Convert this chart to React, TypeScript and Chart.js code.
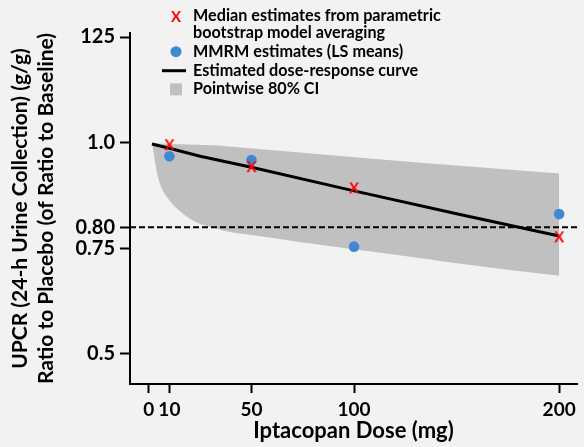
import React, { useEffect, useRef } from 'react';
import { Chart, registerables } from 'chart.js';

Chart.register(...registerables);

// ---- data ----
const xTicks = [0, 10, 50, 100, 200];
const yTicks = [0.5, 0.75, 0.8, 1.0, 1.25];
const yTickLabels = ['0.5', '0.75', '0.80', '1.0', '125'];

const doses = [10, 50, 100, 200];
const medianEstimates = [0.994, 0.942, 0.892, 0.776];
const mmrmEstimates = [0.968, 0.959, 0.754, 0.831];

const curveDoses = [1.5, 10, 25, 50, 100, 150, 200];
const curveValues = [0.997, 0.987, 0.968, 0.942, 0.886, 0.832, 0.779];

const ciDoses = [1.6, 3, 5, 10, 16, 23, 31, 39, 49, 75, 112, 150, 200];
const ciUpper = [0.999, 0.999, 0.998, 0.997, 0.996, 0.995, 0.994, 0.991, 0.987, 0.976, 0.961, 0.946, 0.927];
const ciLower = [0.999, 0.955, 0.908, 0.864, 0.835, 0.812, 0.8, 0.789, 0.782, 0.764, 0.74, 0.715, 0.685];

const referenceLevel = 0.8;
const xRange = [-9.2, 208.7];
const yRange = [0.429, 1.2595];

const xTitle = 'Iptacopan Dose (mg)';
const yTitle = ['UPCR (24-h Urine Collection) (g/g)', 'Ratio to Placebo (of Ratio to Baseline)'];
const legendLabels = [
  ['Median estimates from parametric', 'bootstrap model averaging'],
  ['MMRM estimates (LS means)'],
  ['Estimated dose-response curve'],
  ['Pointwise 80% CI'],
];

const FONT = 'Lato, "Open Sans", sans-serif';
const RED = '#ff0000';
const BLUE = '#4088d2';
const BAND = '#c0c0c0';
const BG = '#f2f2f2';

function makeXGlyph(): HTMLCanvasElement {
  const c = document.createElement('canvas');
  c.width = 14;
  c.height = 16;
  const g = c.getContext('2d')!;
  g.fillStyle = RED;
  g.font = `bold 15px ${FONT}`;
  g.textAlign = 'center';
  g.textBaseline = 'middle';
  g.fillText('X', 7, 8.5);
  return c;
}

const legendPlugin = {
  id: 'customLegend',
  afterDraw(chart: any) {
    const ctx = chart.ctx as CanvasRenderingContext2D;
    ctx.save();
    const symX = 176;
    const textX = 193;
    ctx.font = `bold 16.2px ${FONT}`;
    ctx.fillStyle = '#000';
    ctx.textAlign = 'left';
    ctx.textBaseline = 'alphabetic';
    const base = [20.7, 37.5, 57, 76, 94];
    ctx.fillText(legendLabels[0][0], textX, base[0]);
    ctx.fillText(legendLabels[0][1], textX, base[1]);
    ctx.fillText(legendLabels[1][0], textX, base[2]);
    ctx.fillText(legendLabels[2][0], textX, base[3]);
    ctx.fillText(legendLabels[3][0], textX, base[4]);
    // symbols
    ctx.fillStyle = RED;
    ctx.font = `bold 15px ${FONT}`;
    ctx.textAlign = 'center';
    ctx.textBaseline = 'middle';
    ctx.fillText('X', symX, 17.5);
    ctx.fillStyle = BLUE;
    ctx.beginPath();
    ctx.arc(symX, 51.7, 5.5, 0, Math.PI * 2);
    ctx.fill();
    ctx.strokeStyle = '#000';
    ctx.lineWidth = 3;
    ctx.beginPath();
    ctx.moveTo(162, 70.7);
    ctx.lineTo(186, 70.7);
    ctx.stroke();
    ctx.fillStyle = BAND;
    ctx.fillRect(symX - 6, 83.3, 12, 12);
    ctx.restore();
  },
};

export default function App() {
  const ref = useRef<HTMLCanvasElement>(null);

  useEffect(() => {
    if (!ref.current) return;
    const xGlyph = makeXGlyph();
    const chart = new Chart(ref.current, {
      type: 'line',
      data: {
        datasets: [
          {
            label: 'Median',
            data: doses.map((d, i) => ({ x: d, y: medianEstimates[i] })),
            showLine: false,
            pointStyle: xGlyph as any,
            pointRadius: 6,
            borderColor: RED,
            backgroundColor: RED,
          },
          {
            label: 'MMRM',
            data: doses.map((d, i) => ({ x: d, y: mmrmEstimates[i] })),
            showLine: false,
            pointStyle: 'circle',
            pointRadius: 5.3,
            pointBorderWidth: 0,
            borderColor: BLUE,
            backgroundColor: BLUE,
          },
          {
            label: 'Curve',
            data: curveDoses.map((d, i) => ({ x: d, y: curveValues[i] })),
            borderColor: '#000',
            borderWidth: 3,
            pointRadius: 0,
            tension: 0,
          },
          {
            label: 'Ref',
            data: [
              { x: xRange[0], y: referenceLevel },
              { x: xRange[1], y: referenceLevel },
            ],
            borderColor: '#000',
            borderWidth: 2,
            borderDash: [6, 3],
            pointRadius: 0,
          },
          {
            label: 'CI upper',
            data: ciDoses.map((d, i) => ({ x: d, y: ciUpper[i] })),
            borderColor: 'transparent',
            borderWidth: 0,
            pointRadius: 0,
            backgroundColor: BAND,
            fill: '+1',
            cubicInterpolationMode: 'monotone',
          },
          {
            label: 'CI lower',
            data: ciDoses.map((d, i) => ({ x: d, y: ciLower[i] })),
            borderColor: 'transparent',
            borderWidth: 0,
            pointRadius: 0,
            fill: false,
            cubicInterpolationMode: 'monotone',
          },
        ] as any,
      },
      options: {
        animation: false,
        responsive: true,
        maintainAspectRatio: false,
        layout: { padding: { top: 33, right: 3, left: 0, bottom: 0 } },
        plugins: {
          legend: { display: false },
          tooltip: { enabled: false },
        },
        scales: {
          x: {
            type: 'linear',
            min: xRange[0],
            max: xRange[1],
            afterBuildTicks: (scale: any) => {
              scale.ticks = xTicks.map((v) => ({ value: v }));
            },
            afterFit: (scale: any) => {
              scale.height = 63;
            },
            ticks: {
              color: '#000',
              font: { family: FONT, size: 19, weight: 'bold' },
              padding: 5,
              maxRotation: 0,
              autoSkip: false,
              callback: (v: any) => String(v),
            },
            grid: {
              drawOnChartArea: false,
              drawTicks: true,
              tickLength: 9,
              tickWidth: 2,
              tickColor: '#000',
            },
            border: { display: true, color: '#000', width: 2 },
            title: {
              display: true,
              text: xTitle,
              color: '#000',
              font: { family: FONT, size: 22, weight: 'bold', lineHeight: 1.2 },
              padding: { top: 0, bottom: 3 },
            },
          },
          y: {
            type: 'linear',
            min: yRange[0],
            max: yRange[1],
            afterBuildTicks: (scale: any) => {
              scale.ticks = yTicks.map((v) => ({ value: v }));
            },
            afterFit: (scale: any) => {
              scale.width = 130;
            },
            ticks: {
              color: '#000',
              font: { family: FONT, size: 20, weight: 'bold' },
              padding: 5,
              autoSkip: false,
              callback: (v: any) => {
                const i = yTicks.indexOf(v);
                return i >= 0 ? yTickLabels[i] : '';
              },
            },
            grid: {
              drawOnChartArea: false,
              drawTicks: true,
              tickLength: 10,
              tickWidth: 2,
              tickColor: '#000',
            },
            border: { display: true, color: '#000', width: 2 },
            title: {
              display: true,
              text: yTitle,
              color: '#000',
              font: { family: FONT, size: 21, weight: 'bold', lineHeight: '26px' as any },
              padding: { top: 7, bottom: 0 },
            },
          },
        },
      },
      plugins: [legendPlugin],
    });
    return () => chart.destroy();
  }, []);

  return (
    <div style={{ position: 'absolute', left: 0, top: 0, width: 584, height: 447, background: BG }}>
      <canvas ref={ref} />
    </div>
  );
}
